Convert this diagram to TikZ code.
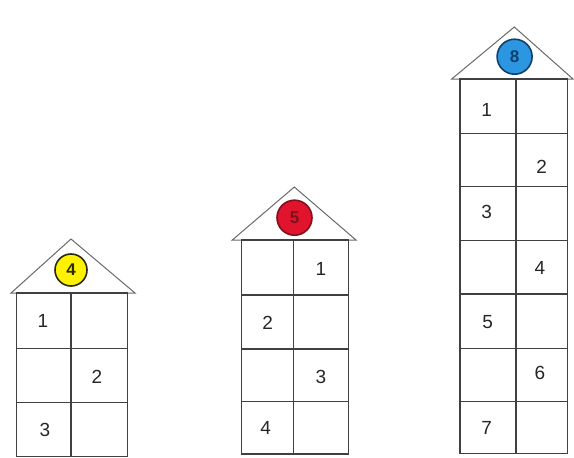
\documentclass[tikz,border=0pt]{standalone}
\usepackage{fontspec}
\setmainfont{Liberation Sans}
\definecolor{wallc}{HTML}{404040}
\definecolor{roofc}{HTML}{6A6A6A}
\definecolor{yel}{HTML}{FFF200}
\definecolor{yeld}{HTML}{2A2A10}
\definecolor{redf}{HTML}{E0142C}
\definecolor{redd}{HTML}{80101C}
\definecolor{bluf}{HTML}{2C96E0}
\definecolor{blud}{HTML}{10406E}
\begin{document}
\begin{tikzpicture}[x=1pt,y=-1pt,
  wall/.style={draw=wallc, line width=1.4pt},
  roof/.style={draw=roofc, line width=1pt, fill=white, line join=miter},
  num/.style={font=\fontsize{19}{19}\selectfont, text=black!85, inner sep=0pt},
  badge/.style={circle, minimum size=32pt, inner sep=0pt, line width=1.6pt, font=\bfseries\fontsize{17}{17}\selectfont}]
\useasboundingbox (0,0) rectangle (574,458);
\fill[white] (0,0) rectangle (574,458);

% House 1
\draw[roof] (11,293) -- (71,239) -- (135,293) -- cycle;
\draw[wall] (16.7,293) rectangle (127.7,456.5);
\draw[wall] (71,293) -- (71,456.5);
\draw[wall] (16.7,348.3) -- (127.7,348.3);
\draw[wall] (16.7,402.3) -- (127.7,402.3);
\node[badge, fill=yel, draw=yeld, text=yeld] (c4) at (71,270) {4};
\node[num] (h1n1) at (43,321) {1};
\node[num] (h1n2) at (97,377) {2};
\node[num] (h1n3) at (45,430) {3};

% House 2
\draw[roof] (232.3,240) -- (294.3,187) -- (356,240) -- cycle;
\draw[wall] (241.7,240) rectangle (348.3,454);
\draw[wall] (293.3,240) -- (293.3,454);
\draw[wall] (241.7,295) -- (348.3,295);
\draw[wall] (241.7,349) -- (348.3,349);
\draw[wall] (241.7,401.7) -- (348.3,401.7);
\node[badge, minimum size=35pt, fill=redf, draw=redd, text=redd] (c5) at (294.5,217.7) {5};
\node[num] (h2n1) at (321,269.3) {1};
\node[num] (h2n2) at (267.7,322.7) {2};
\node[num] (h2n3) at (321,376.7) {3};
\node[num] (h2n4) at (265.7,428.3) {4};

% House 3
\draw[roof] (451.7,79) -- (514.3,27) -- (573,79) -- cycle;
\draw[wall] (460,79) rectangle (567.7,453.3);
\draw[wall] (516,79) -- (516,453.3);
\foreach \yy in {133.3,186.7,240.7,294,348.3,401.7}
  \draw[wall] (460,\yy) -- (567.7,\yy);
\node[badge, minimum size=35pt, fill=bluf, draw=blud, text=blud] (c8) at (514.6,56.7) {8};
\node[num] (h3n1) at (486.7,110) {1};
\node[num] (h3n2) at (541.7,166.7) {2};
\node[num] (h3n3) at (486.7,211.7) {3};
\node[num] (h3n4) at (540,268.3) {4};
\node[num] (h3n5) at (487.7,321.7) {5};
\node[num] (h3n6) at (540,373.3) {6};
\node[num] (h3n7) at (486.7,428.3) {7};
\end{tikzpicture}
\end{document}
